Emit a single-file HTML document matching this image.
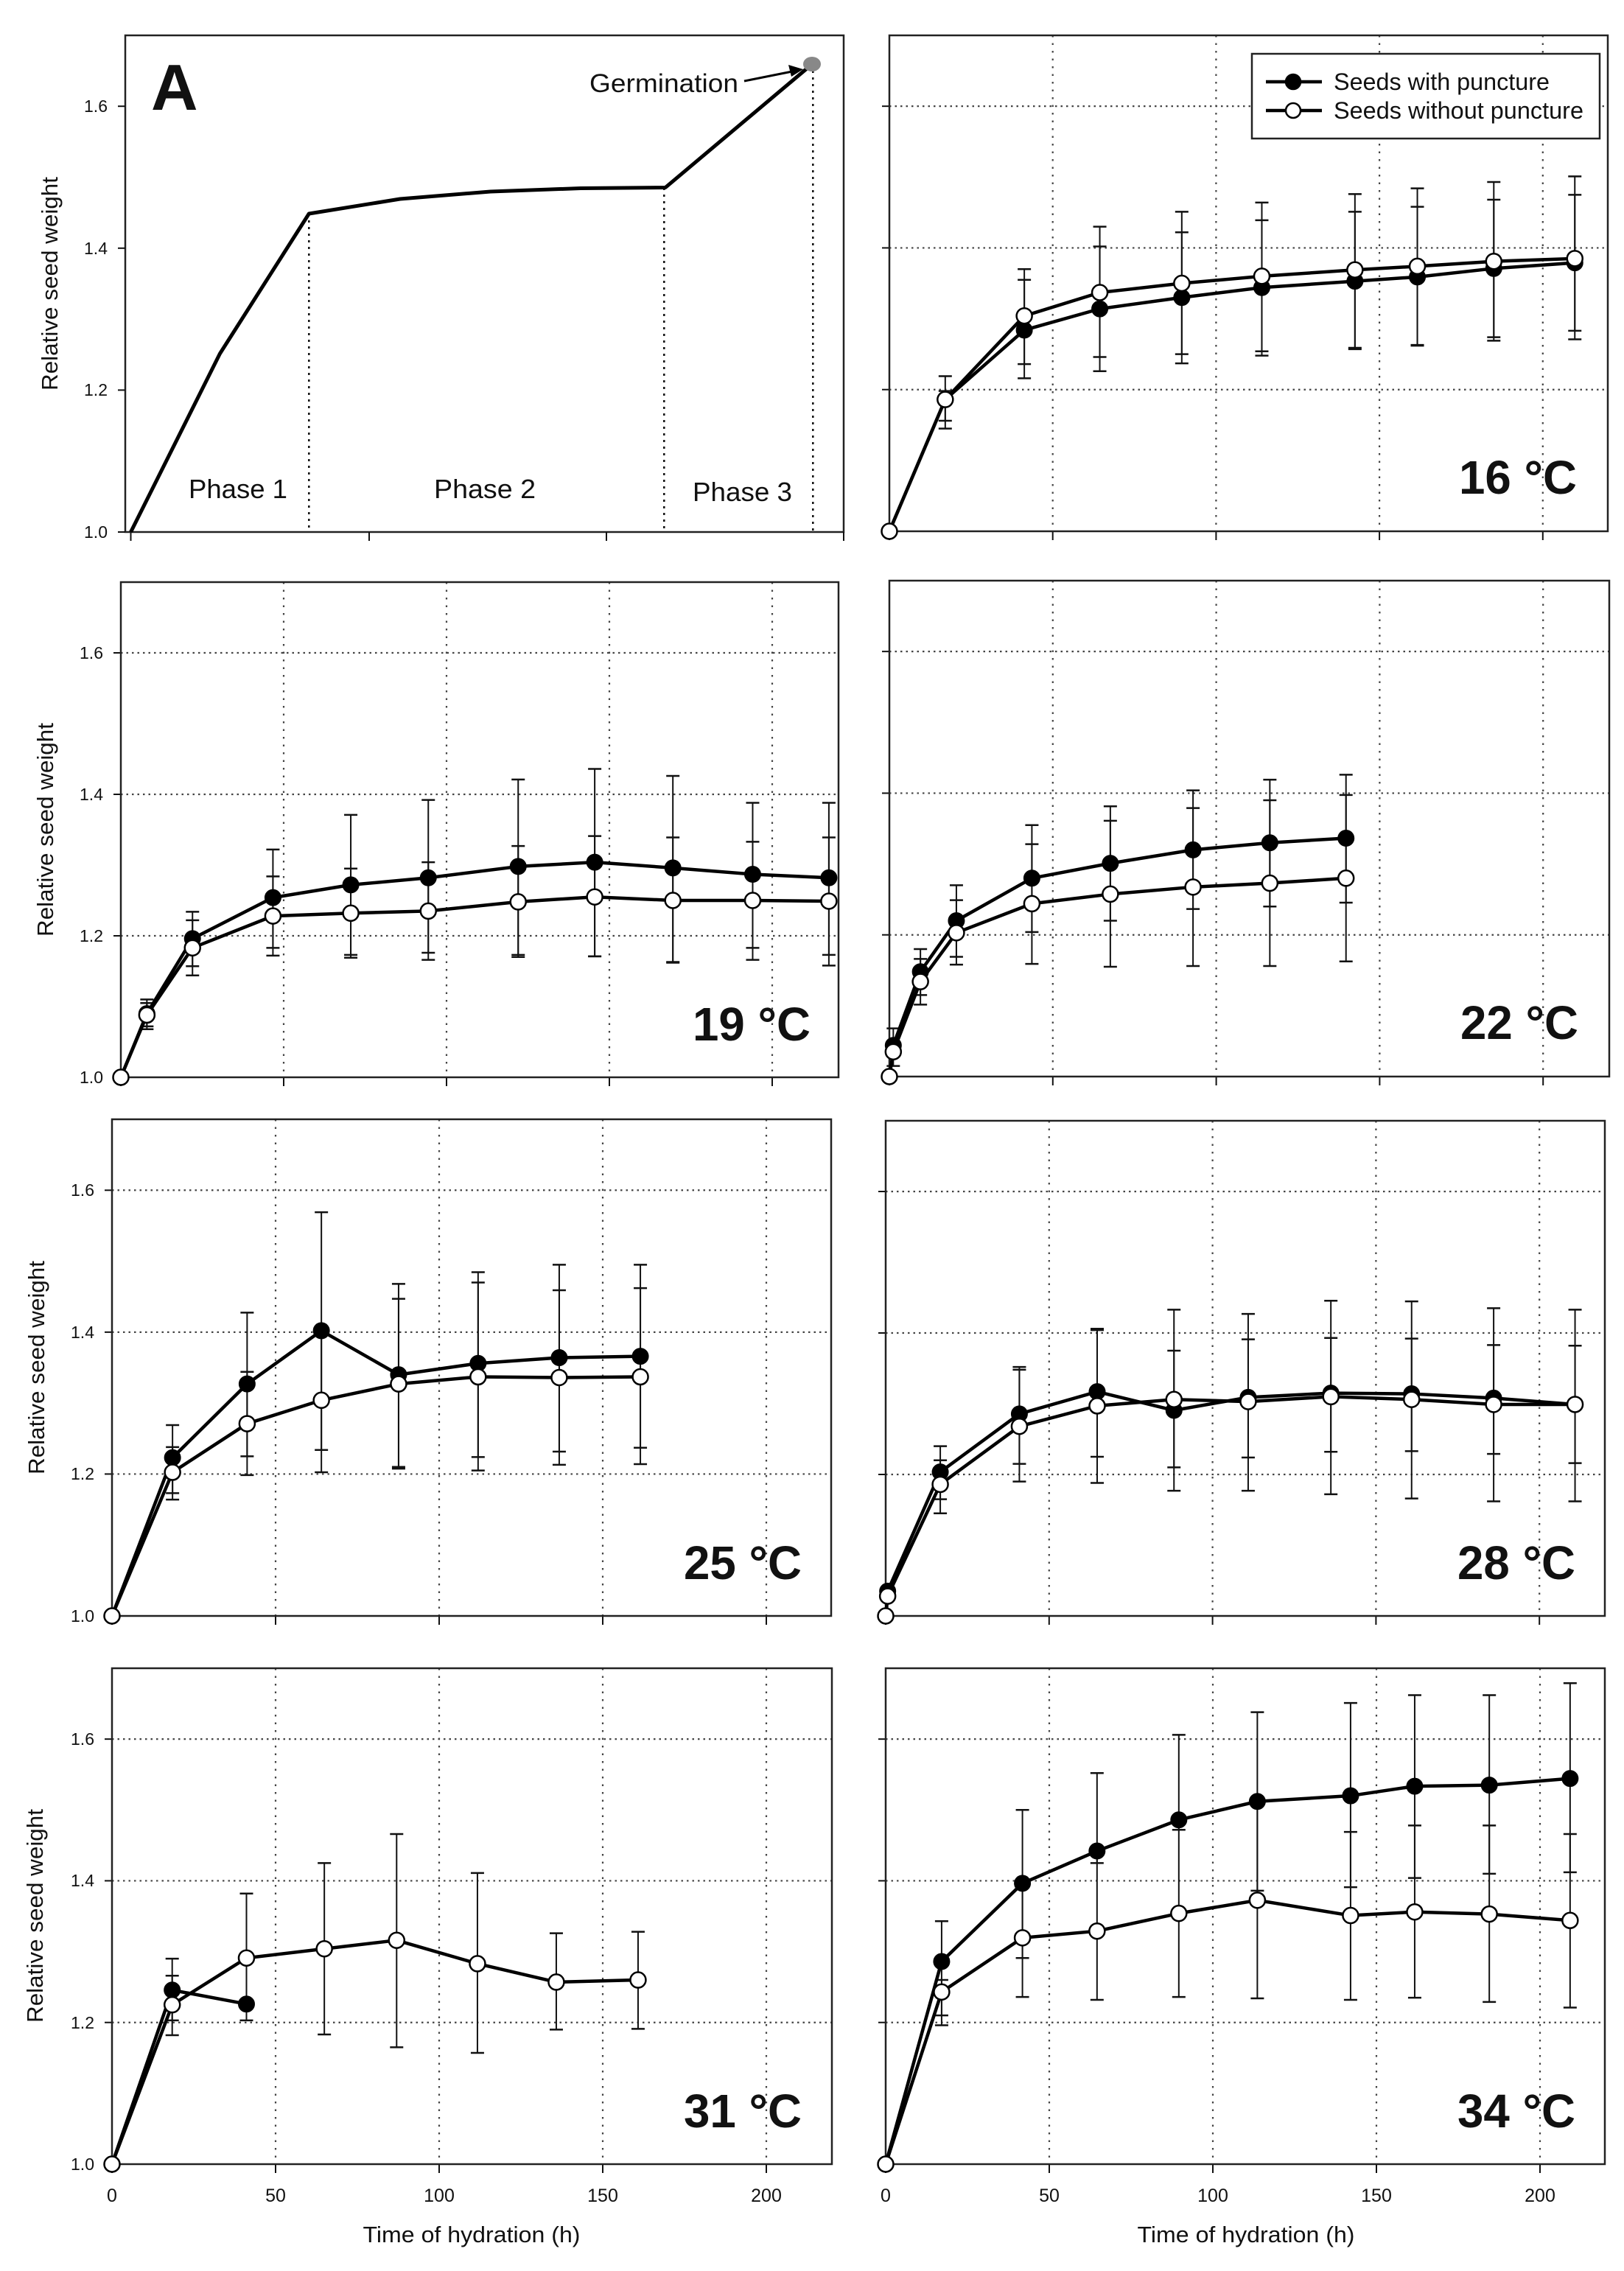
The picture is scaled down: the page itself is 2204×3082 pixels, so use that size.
<!DOCTYPE html>
<html><head><meta charset="utf-8"><style>
html,body{margin:0;padding:0;background:#fff;}
svg{display:block;}
text{font-family:"Liberation Sans",Arial,sans-serif;fill:#111;}
.tk{font-size:23px;}
.yt{font-size:31px;}
.xt{font-size:25px;}
.tl{font-size:64px;font-weight:bold;}
</style></head><body>
<svg id="s" width="2204" height="3082" viewBox="0 0 2204 3082" xmlns="http://www.w3.org/2000/svg">
<rect width="2204" height="3082" fill="#fff"/>
<g id="g"></g>
<!-- Panel A text -->
<text x="205" y="149" style="font-size:88px;font-weight:bold">A</text>
<text x="800" y="125" style="font-size:35px" textLength="202" lengthAdjust="spacingAndGlyphs">Germination</text>
<text x="256" y="676" style="font-size:36px" textLength="134" lengthAdjust="spacingAndGlyphs">Phase 1</text>
<text x="589" y="676" style="font-size:36px" textLength="138" lengthAdjust="spacingAndGlyphs">Phase 2</text>
<text x="940" y="680" style="font-size:36px" textLength="135" lengthAdjust="spacingAndGlyphs">Phase 3</text>
<!-- y tick labels -->
<g class="tk" text-anchor="end">
<text x="146" y="730">1.0</text><text x="146" y="537">1.2</text><text x="146" y="345">1.4</text><text x="146" y="152">1.6</text>
<text x="140" y="1470">1.0</text><text x="140" y="1278">1.2</text><text x="140" y="1086">1.4</text><text x="140" y="894">1.6</text>
<text x="128" y="2201">1.0</text><text x="128" y="2008">1.2</text><text x="128" y="1816">1.4</text><text x="128" y="1623">1.6</text>
<text x="128" y="2945">1.0</text><text x="128" y="2753">1.2</text><text x="128" y="2560">1.4</text><text x="128" y="2368">1.6</text>
</g>
<!-- y titles -->
<text class="yt" transform="translate(78,385) rotate(-90)" text-anchor="middle" textLength="290" lengthAdjust="spacingAndGlyphs">Relative seed weight</text>
<text class="yt" transform="translate(72,1126) rotate(-90)" text-anchor="middle" textLength="290" lengthAdjust="spacingAndGlyphs">Relative seed weight</text>
<text class="yt" transform="translate(60,1856) rotate(-90)" text-anchor="middle" textLength="290" lengthAdjust="spacingAndGlyphs">Relative seed weight</text>
<text class="yt" transform="translate(58,2600) rotate(-90)" text-anchor="middle" textLength="290" lengthAdjust="spacingAndGlyphs">Relative seed weight</text>
<!-- x tick labels -->
<g class="xt" text-anchor="middle">
<text x="152" y="2988">0</text><text x="374" y="2988">50</text><text x="596" y="2988">100</text><text x="818" y="2988">150</text><text x="1040" y="2988">200</text>
<text x="1202" y="2988">0</text><text x="1424" y="2988">50</text><text x="1646" y="2988">100</text><text x="1868" y="2988">150</text><text x="2090" y="2988">200</text>
</g>
<text x="640" y="3043" text-anchor="middle" style="font-size:31px" textLength="295" lengthAdjust="spacingAndGlyphs">Time of hydration (h)</text>
<text x="1691" y="3043" text-anchor="middle" style="font-size:31px" textLength="295" lengthAdjust="spacingAndGlyphs">Time of hydration (h)</text>
<!-- temperature labels -->
<g class="tl" text-anchor="end">
<text x="2140" y="670" textLength="160" lengthAdjust="spacingAndGlyphs">16 °C</text>
<text x="1100" y="1412" textLength="160" lengthAdjust="spacingAndGlyphs">19 °C</text>
<text x="2142" y="1410" textLength="160" lengthAdjust="spacingAndGlyphs">22 °C</text>
<text x="1088" y="2143" textLength="160" lengthAdjust="spacingAndGlyphs">25 °C</text>
<text x="2138" y="2143" textLength="160" lengthAdjust="spacingAndGlyphs">28 °C</text>
<text x="1088" y="2887" textLength="160" lengthAdjust="spacingAndGlyphs">31 °C</text>
<text x="2138" y="2887" textLength="160" lengthAdjust="spacingAndGlyphs">34 °C</text>
</g>
<!-- legend -->
<rect x="1699" y="73" width="472" height="115" fill="#fff" stroke="#222" stroke-width="2.5"/>
<line x1="1718" y1="111" x2="1794" y2="111" stroke="#000" stroke-width="4.5"/>
<circle cx="1755" cy="111" r="10" fill="#000" stroke="#000" stroke-width="2.5"/>
<line x1="1718" y1="150" x2="1794" y2="150" stroke="#000" stroke-width="4.5"/>
<circle cx="1755" cy="150" r="10" fill="#fff" stroke="#000" stroke-width="2.5"/>
<text x="1810" y="122" style="font-size:32px" textLength="293" lengthAdjust="spacingAndGlyphs">Seeds with puncture</text>
<text x="1810" y="161" style="font-size:32px" textLength="339" lengthAdjust="spacingAndGlyphs">Seeds without puncture</text>
</svg>
<script>
var NS="http://www.w3.org/2000/svg",G=document.getElementById("g");
function el(t,a){var e=document.createElementNS(NS,t);for(var k in a)e.setAttribute(k,a[k]);G.appendChild(e);return e;}
function line(x1,y1,x2,y2,a){a=a||{};a.x1=x1;a.y1=y1;a.x2=x2;a.y2=y2;if(!a.stroke)a.stroke="#111";return el("line",a);}
var P=[
{L:1207,R:2182,T:48,B:721,x0:1207,s:221.7,
f:[[0,1],[17.1,1.186],[41.3,1.284],[64.4,1.314],[89.5,1.330],[114,1.344],[142.5,1.353],[161.6,1.359],[185,1.371],[209.8,1.379]],
o:[[0,1],[17.1,1.186],[41.3,1.304],[64.4,1.337],[89.5,1.350],[114,1.360],[142.5,1.369],[161.6,1.374],[185,1.381],[209.8,1.385]],
e:[[17.1,1.219,1.145],[17.1,1.198,1.156],[41.3,1.370,1.216],[41.3,1.355,1.236],[64.4,1.430,1.226],[64.4,1.402,1.246],[89.5,1.451,1.237],[89.5,1.422,1.250],[114,1.464,1.248],[114,1.439,1.254],[142.5,1.476,1.257],[142.5,1.451,1.259],[161.6,1.484,1.262],[161.6,1.458,1.263],[185,1.493,1.269],[185,1.468,1.274],[209.8,1.501,1.271],[209.8,1.475,1.283]]},
{L:164,R:1138,T:790,B:1462,x0:164,s:221,
f:[[0,1],[8,1.090],[22,1.196],[46.7,1.254],[70.6,1.272],[94.4,1.282],[122,1.298],[145.5,1.304],[169.5,1.296],[194,1.287],[217.4,1.282]],
o:[[0,1],[8,1.088],[22,1.183],[46.7,1.228],[70.6,1.232],[94.4,1.235],[122,1.248],[145.5,1.255],[169.5,1.250],[194,1.250],[217.4,1.249]],
e:[[8,1.11,1.068],[8,1.105,1.072],[22,1.234,1.144],[22,1.222,1.157],[46.7,1.322,1.172],[46.7,1.284,1.183],[70.6,1.371,1.169],[70.6,1.295,1.173],[94.4,1.392,1.166],[94.4,1.304,1.176],[122,1.421,1.170],[122,1.327,1.173],[145.5,1.436,1.171],[145.5,1.341,1.171],[169.5,1.426,1.162],[169.5,1.339,1.163],[194,1.388,1.166],[194,1.333,1.183],[217.4,1.388,1.158],[217.4,1.339,1.173]]},
{L:1207,R:2184,T:788,B:1461,x0:1207,s:221.8,
f:[[1.2,1.044],[9.5,1.148],[20.5,1.22],[43.6,1.28],[67.6,1.301],[92.9,1.32],[116.4,1.33],[139.7,1.3365]],
o:[[0,1],[1.2,1.035],[9.5,1.134],[20.5,1.203],[43.6,1.244],[67.6,1.2575],[92.9,1.2675],[116.4,1.273],[139.7,1.28]],
e:[[1.2,1.068,1.015],[9.5,1.18,1.1015],[9.5,1.166,1.115],[20.5,1.27,1.158],[20.5,1.249,1.169],[43.6,1.355,1.159],[43.6,1.328,1.204],[67.6,1.3815,1.155],[67.6,1.361,1.22],[92.9,1.404,1.156],[92.9,1.379,1.2365],[116.4,1.419,1.156],[116.4,1.39,1.24],[139.7,1.426,1.1625],[139.7,1.3975,1.2455]]},
{L:152,R:1128,T:1519,B:2193,x0:152,s:222,
f:[[0,1],[18.5,1.223],[41.3,1.327],[64,1.402],[87.6,1.340],[111.9,1.356],[136.7,1.364],[161.5,1.366]],
o:[[0,1],[18.5,1.2025],[41.3,1.271],[64,1.304],[87.6,1.327],[111.9,1.337],[136.7,1.336],[161.5,1.337]],
e:[[18.5,1.269,1.164],[18.5,1.238,1.173],[41.3,1.4275,1.1985],[41.3,1.344,1.225],[64,1.569,1.2025],[64,1.402,1.234],[87.6,1.468,1.2076],[87.6,1.447,1.21],[111.9,1.4845,1.205],[111.9,1.47,1.224],[136.7,1.495,1.213],[136.7,1.459,1.2316],[161.5,1.495,1.214],[161.5,1.462,1.237]]},
{L:1202,R:2178,T:1521,B:2193,x0:1202,s:221.8,
f:[[0.6,1.035],[16.7,1.2035],[40.9,1.2856],[64.7,1.317],[88.2,1.2906],[110.9,1.309],[136.2,1.315],[160.9,1.314],[186,1.308],[210.9,1.299]],
o:[[0,1],[0.6,1.028],[16.7,1.186],[40.9,1.268],[64.7,1.297],[88.2,1.306],[110.9,1.303],[136.2,1.31],[160.9,1.306],[186,1.299],[210.9,1.299]],
e:[[0.6,1.04,1.0],[16.7,1.24,1.145],[16.7,1.22,1.165],[40.9,1.352,1.19],[40.9,1.348,1.215],[64.7,1.406,1.188],[64.7,1.404,1.225],[88.2,1.433,1.177],[88.2,1.375,1.21],[110.9,1.427,1.177],[110.9,1.391,1.224],[136.2,1.4456,1.172],[136.2,1.393,1.232],[160.9,1.4446,1.166],[160.9,1.392,1.233],[186,1.435,1.162],[186,1.383,1.229],[210.9,1.433,1.162],[210.9,1.382,1.216]]},
{L:152,R:1129,T:2264,B:2937,x0:152,s:222,
f:[[0,1],[18.4,1.2457],[41.1,1.226]],
o:[[0,1],[18.4,1.225],[41.1,1.291],[64.9,1.304],[87,1.316],[111.7,1.283],[135.8,1.257],[160.8,1.26]],
e:[[18.4,1.29,1.182],[18.4,1.266,1.203],[41.1,1.382,1.203],[64.9,1.425,1.183],[87,1.466,1.165],[111.7,1.411,1.157],[135.8,1.326,1.19],[160.8,1.328,1.191]]},
{L:1202,R:2178,T:2264,B:2937,x0:1202,s:222,
f:[[0,1],[17.1,1.286],[41.8,1.3964],[64.6,1.442],[89.6,1.486],[113.6,1.512],[142.1,1.52],[161.7,1.5335],[184.5,1.535],[209.2,1.5444]],
o:[[0,1],[17.1,1.243],[41.8,1.3195],[64.6,1.329],[89.6,1.354],[113.6,1.3725],[142.1,1.351],[161.7,1.356],[184.5,1.353],[209.2,1.344]],
e:[[17.1,1.343,1.196],[17.1,1.26,1.21],[41.8,1.50,1.236],[41.8,1.396,1.291],[64.6,1.552,1.232],[64.6,1.442,1.425],[89.6,1.606,1.236],[89.6,1.486,1.472],[113.6,1.638,1.234],[113.6,1.512,1.386],[142.1,1.651,1.232],[142.1,1.469,1.391],[161.7,1.662,1.235],[161.7,1.478,1.404],[184.5,1.662,1.229],[184.5,1.478,1.41],[209.2,1.679,1.221],[209.2,1.466,1.412]]}
];
P.forEach(function(p){
 var X=function(h){return p.x0+h*p.s/50;},Y=function(v){return p.B-(v-1)/0.7*(p.B-p.T);};
 [1.2,1.4,1.6].forEach(function(v){line(p.L,Y(v),p.R,Y(v),{stroke:"#444","stroke-width":2.2,"stroke-dasharray":"2.5,5"});line(p.L-10,Y(v),p.L,Y(v),{"stroke-width":2});});
 line(p.L-10,p.B,p.L,p.B,{"stroke-width":2});
 [50,100,150,200].forEach(function(h){line(X(h),p.T,X(h),p.B,{stroke:"#444","stroke-width":2.2,"stroke-dasharray":"2.5,8"});line(X(h),p.B,X(h),p.B+12,{"stroke-width":2});});
 line(X(0),p.B,X(0),p.B+12,{"stroke-width":2});
 el("rect",{x:p.L,y:p.T,width:p.R-p.L,height:p.B-p.T,fill:"none",stroke:"#222","stroke-width":2.5});
 p.e.forEach(function(e){var x=X(e[0]);line(x,Y(e[1]),x,Y(e[2]),{"stroke-width":2});line(x-9,Y(e[1]),x+9,Y(e[1]),{"stroke-width":2.5});line(x-9,Y(e[2]),x+9,Y(e[2]),{"stroke-width":2.5});});
 [p.f,p.o].forEach(function(s){el("polyline",{points:s.map(function(d){return X(d[0])+","+Y(d[1]);}).join(" "),fill:"none",stroke:"#000","stroke-width":4.5,"stroke-linejoin":"round"});});
 p.f.forEach(function(d){el("circle",{cx:X(d[0]),cy:Y(d[1]),r:10.5,fill:"#000",stroke:"#000","stroke-width":2});});
 p.o.forEach(function(d){el("circle",{cx:X(d[0]),cy:Y(d[1]),r:10.5,fill:"#fff",stroke:"#000","stroke-width":2.5});});
});
(function(){
 var L=170,R=1145,T=48,B=722;
 el("rect",{x:L,y:T,width:R-L,height:B-T,fill:"none",stroke:"#222","stroke-width":2.5});
 [722,529.4,336.8,144.2].forEach(function(y){line(L-10,y,L,y,{"stroke-width":2});});
 [177.5,501,823,1145].forEach(function(x){line(x,B,x,B+12,{"stroke-width":2});});
 [[419.3,290],[901.3,255],[1103.3,87]].forEach(function(d){line(d[0],d[1],d[0],B,{stroke:"#111","stroke-width":2.5,"stroke-dasharray":"3,6"});});
 el("polyline",{points:"177.5,722 298.4,480 419.3,290 543,270 665.6,260 788,255.5 903,254.5 1101.8,87.3",fill:"none",stroke:"#000","stroke-width":5,"stroke-linejoin":"round"});
 el("ellipse",{cx:1102,cy:87,rx:12,ry:10,fill:"#888"});
 line(1010,110,1080,96,{stroke:"#000","stroke-width":3});
 el("polygon",{points:"1090,94 1070,88 1074,104",fill:"#000"});
})();
</script>
</body></html>
